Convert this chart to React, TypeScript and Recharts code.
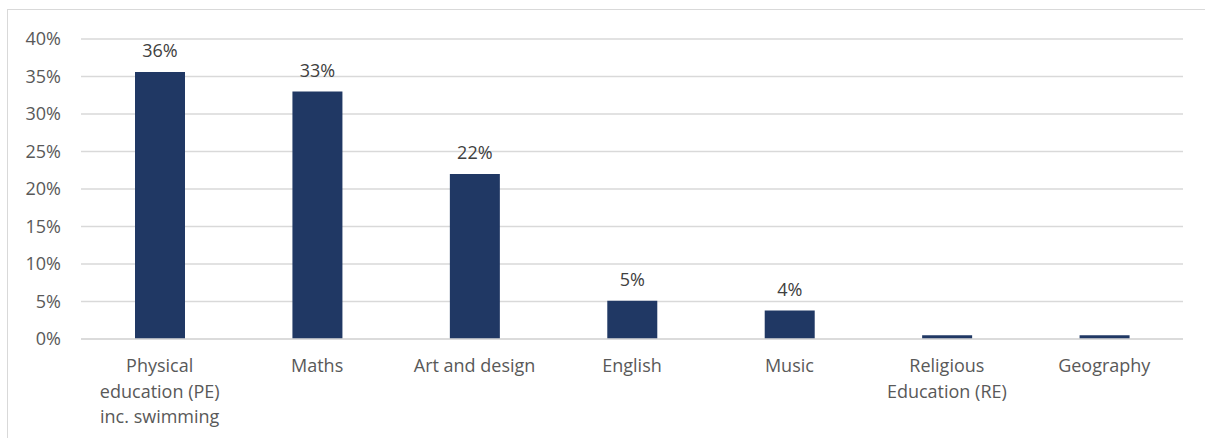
import { BarChart, Bar, XAxis, YAxis, CartesianGrid, LabelList } from 'recharts'

const subjects = [
  'Physical\neducation (PE)\ninc. swimming',
  'Maths',
  'Art and design',
  'English',
  'Music',
  'Religious\nEducation (RE)',
  'Geography',
]
const shares = [35.6, 33.0, 22.0, 5.1, 3.8, 0.5, 0.5]
const shareLabels = ['36%', '33%', '22%', '5%', '4%', '', '']
const yTicks = [0, 5, 10, 15, 20, 25, 30, 35, 40]

const data = subjects.map((name, i) => ({ name, value: shares[i], label: shareLabels[i] }))

const BAR = '#203864'
const GRID = '#d9d9d9'
const FONT = '"Open Sans", sans-serif'

function SubjectTick({ x, y, payload }: any) {
  const lines = String(payload.value).split('\n')
  return (
    <text x={x} y={y + 33} textAnchor="middle" fill="#595959" fontSize={18} fontFamily={FONT}>
      {lines.map((line, i) => (
        <tspan key={i} x={x} dy={i === 0 ? 0 : 25.5}>{line}</tspan>
      ))}
    </text>
  )
}

export default function App() {
  return (
    <div style={{ position: 'absolute', left: 7, top: 9, borderTop: `1.5px solid ${GRID}`, borderLeft: `1.5px solid ${GRID}` }}>
      <BarChart width={1197} height={428} data={data} margin={{ top: 29, right: 22, left: 0, bottom: 0 }}>
        <CartesianGrid vertical={false} stroke={GRID} strokeWidth={1.5} />
        <XAxis
          dataKey="name"
          axisLine={{ stroke: GRID, strokeWidth: 1.5 }}
          tickLine={false}
          tickSize={0}
          tickMargin={0}
          height={99}
          interval={0}
          tick={<SubjectTick />}
        />
        <YAxis
          domain={[0, 40]}
          ticks={yTicks}
          width={73}
          axisLine={false}
          tickLine={false}
          tickSize={0}
          tickMargin={20}
          tickFormatter={(v) => `${v}%`}
          tick={{ fill: '#595959', fontSize: 18, fontFamily: FONT }}
        />
        <Bar dataKey="value" fill={BAR} barSize={50} isAnimationActive={false}>
          <LabelList dataKey="label" position="top" offset={15} fill="#404040" fontSize={18} fontFamily={FONT} />
        </Bar>
      </BarChart>
    </div>
  )
}
